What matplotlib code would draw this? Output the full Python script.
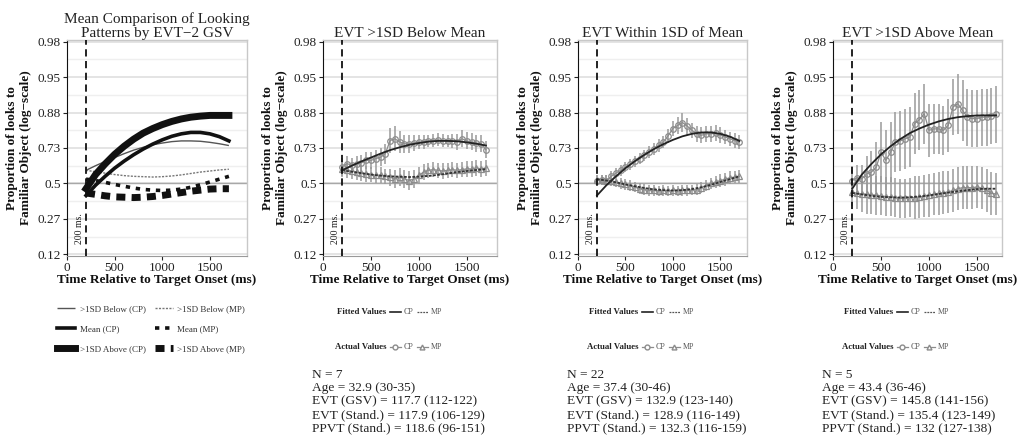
import numpy as np
import matplotlib
matplotlib.use('Agg')
import matplotlib.pyplot as plt
from matplotlib.lines import Line2D

plt.rcParams['font.family'] = ['Liberation Serif', 'DejaVu Serif']

# ---------------- data (log-odds scale) ----------------
time_bins = [200, 250, 300, 350, 400, 450, 500, 550, 600, 650, 700, 750, 800, 850, 900, 950,
             1000, 1050, 1100, 1150, 1200, 1250, 1300, 1350, 1400, 1450, 1500, 1550, 1600, 1650, 1700]
fit_times = [200, 300, 400, 500, 600, 700, 800, 900, 1000, 1100, 1200, 1300, 1400, 1500, 1600, 1700]

# fitted curves
below_cp_fit = [0.37, 0.50, 0.62, 0.73, 0.84, 0.94, 1.02, 1.09, 1.14, 1.18, 1.20, 1.20, 1.19, 1.16, 1.12, 1.07]
below_mp_fit = [0.37, 0.33, 0.29, 0.25, 0.22, 0.20, 0.19, 0.18, 0.19, 0.21, 0.24, 0.28, 0.32, 0.35, 0.38, 0.40]
mean_cp_fit = [-0.34, -0.05, 0.20, 0.43, 0.63, 0.81, 0.97, 1.11, 1.23, 1.33, 1.40, 1.44, 1.44, 1.40, 1.32, 1.20]
mean_mp_fit = [0.12, 0.08, 0.03, -0.03, -0.08, -0.13, -0.17, -0.19, -0.20, -0.19, -0.16, -0.11, -0.04, 0.04, 0.12, 0.20]
above_cp_fit = [-0.15, 0.25, 0.55, 0.82, 1.05, 1.25, 1.42, 1.55, 1.66, 1.75, 1.82, 1.87, 1.90, 1.92, 1.92, 1.92]
above_mp_fit = [-0.27, -0.31, -0.35, -0.38, -0.39, -0.40, -0.39, -0.37, -0.34, -0.30, -0.26, -0.22, -0.19, -0.16, -0.15, -0.15]

# actual values (means) and error half-widths
below_cp_obs = [0.46, 0.56, 0.51, 0.56, 0.58, 0.65, 0.65, 0.70, 0.74, 0.84, 1.21, 1.26, 1.17, 1.12, 1.12, 1.14,
                1.17, 1.17, 1.20, 1.21, 1.23, 1.21, 1.20, 1.20, 1.17, 1.26, 1.20, 1.17, 1.14, 1.12, 0.95]
below_cp_err = [0.25, 0.22, 0.22, 0.22, 0.22, 0.24, 0.24, 0.25, 0.26, 0.28, 0.35, 0.35, 0.30, 0.25, 0.25, 0.22,
                0.20, 0.20, 0.18, 0.18, 0.18, 0.18, 0.18, 0.20, 0.22, 0.24, 0.24, 0.24, 0.24, 0.24, 0.24]
below_mp_obs = [0.41, 0.37, 0.35, 0.32, 0.29, 0.27, 0.25, 0.23, 0.23, 0.20, 0.18, 0.13, 0.18, 0.13, 0.08, 0.13,
                0.23, 0.32, 0.37, 0.39, 0.37, 0.35, 0.37, 0.39, 0.37, 0.39, 0.41, 0.41, 0.44, 0.41, 0.44]
below_mp_err = [0.22, 0.22, 0.22, 0.22, 0.22, 0.22, 0.22, 0.22, 0.22, 0.22, 0.24, 0.26, 0.26, 0.26, 0.28, 0.26,
                0.24, 0.22, 0.22, 0.22, 0.22, 0.22, 0.22, 0.22, 0.22, 0.22, 0.22, 0.22, 0.22, 0.22, 0.22]

mean_cp_obs = [0.08, 0.10, 0.08, 0.20, 0.29, 0.37, 0.46, 0.54, 0.62, 0.70, 0.79, 0.89, 0.97, 1.08, 1.17, 1.35,
               1.55, 1.64, 1.72, 1.62, 1.50, 1.40, 1.36, 1.40, 1.40, 1.42, 1.36, 1.31, 1.26, 1.21, 1.17]
mean_cp_err = [0.15, 0.15, 0.15, 0.15, 0.15, 0.15, 0.15, 0.15, 0.15, 0.15, 0.16, 0.16, 0.17, 0.18, 0.18, 0.20,
               0.22, 0.24, 0.26, 0.24, 0.22, 0.22, 0.22, 0.22, 0.22, 0.22, 0.22, 0.20, 0.20, 0.20, 0.20]
mean_mp_obs = [0.10, 0.10, 0.08, 0.08, 0.04, 0.00, -0.03, -0.06, -0.10, -0.15, -0.18, -0.20, -0.20, -0.21, -0.20, -0.21,
               -0.20, -0.21, -0.20, -0.20, -0.19, -0.18, -0.12, -0.06, 0.00, 0.04, 0.08, 0.12, 0.16, 0.18, 0.20]
mean_mp_err = [0.15, 0.15, 0.15, 0.15, 0.15, 0.15, 0.15, 0.15, 0.15, 0.15, 0.15, 0.15, 0.15, 0.15, 0.15, 0.15,
               0.15, 0.15, 0.15, 0.15, 0.15, 0.15, 0.15, 0.15, 0.16, 0.17, 0.18, 0.18, 0.18, 0.18, 0.18]

above_cp_obs = [0.08, 0.16, 0.13, 0.27, 0.32, 0.46, 0.88, 0.65, 0.88, 1.17, 1.20, 1.26, 1.31, 1.69, 1.80, 1.97,
                1.50, 1.54, 1.54, 1.50, 1.64, 2.16, 2.25, 2.06, 1.87, 1.83, 1.83, 1.87, 1.87, 1.90, 1.95]
above_cp_err = [0.30, 0.35, 0.40, 0.50, 0.60, 0.70, 0.85, 0.85, 0.85, 0.85, 0.85, 0.85, 0.85, 0.85, 0.85, 0.85,
                0.75, 0.70, 0.70, 0.70, 0.75, 0.80, 0.85, 0.85, 0.80, 0.80, 0.80, 0.80, 0.80, 0.80, 0.80]
above_mp_obs = [-0.25, -0.28, -0.30, -0.30, -0.32, -0.33, -0.35, -0.37, -0.38, -0.40, -0.42, -0.42, -0.40, -0.40, -0.38, -0.36,
                -0.34, -0.30, -0.28, -0.26, -0.24, -0.20, -0.15, -0.12, -0.12, -0.12, -0.10, -0.13, -0.20, -0.28, -0.30]
above_mp_err = [0.40, 0.45, 0.50, 0.55, 0.55, 0.55, 0.55, 0.55, 0.55, 0.55, 0.55, 0.55, 0.55, 0.60, 0.60, 0.60,
                0.60, 0.60, 0.60, 0.60, 0.60, 0.60, 0.60, 0.60, 0.60, 0.60, 0.60, 0.60, 0.60, 0.60, 0.60]

ytick_pos = [-2, -1, 0, 1, 2, 3, 4]
ytick_labels = ['0.12', '0.27', '0.5', '0.73', '0.88', '0.95', '0.98']
xtick_pos = [0, 500, 1000, 1500]

panel_titles = ['Mean Comparison of Looking\nPatterns by EVT\u22122 GSV',
                'EVT >1SD Below Mean', 'EVT Within 1SD of Mean', 'EVT >1SD Above Mean']

stats_text = [
    ['N = 7', 'Age = 32.9 (30-35)', 'EVT (GSV) = 117.7 (112-122)',
     'EVT (Stand.) = 117.9 (106-129)', 'PPVT (Stand.) = 118.6 (96-151)'],
    ['N = 22', 'Age = 37.4 (30-46)', 'EVT (GSV) = 132.9 (123-140)',
     'EVT (Stand.) = 128.9 (116-149)', 'PPVT (Stand.) = 132.3 (116-159)'],
    ['N = 5', 'Age = 43.4 (36-46)', 'EVT (GSV) = 145.8 (141-156)',
     'EVT (Stand.) = 135.4 (123-149)', 'PPVT (Stand.) = 132 (127-138)'],
]

# ---------------- layout ----------------
W, H = 1020, 448
fig = plt.figure(figsize=(W / 100, H / 100), dpi=100)
fig.patch.set_facecolor('white')


def px_axes(l, t, r, b, **kw):
    return fig.add_axes([l / W, 1 - b / H, (r - l) / W, (b - t) / H], **kw)


panel_boxes = [(67, 40, 247, 256), (323, 40, 497, 256), (578, 40, 747, 256), (833, 40, 1002, 256)]
xmax_list = [1890, 1815, 1780, 1760]


def style_axes(ax, title, xmax):
    ax.set_xlim(0, xmax)
    ax.set_ylim(-2.05, 4.05)
    ax.set_yticks(ytick_pos)
    ax.set_yticklabels(ytick_labels)
    ax.set_yticks([-1.5, -0.5, 0.5, 1.5, 2.5, 3.5], minor=True)
    ax.set_xticks(xtick_pos)
    ax.grid(axis='y', which='major', color='#e4e4e4', lw=1.4)
    ax.grid(axis='y', which='minor', color='#efefef', lw=1.0)
    ax.set_axisbelow(True)
    for s in ['top', 'right']:
        ax.spines[s].set_color('#c8c8c8')
        ax.spines[s].set_linewidth(1.0)
    ax.spines['left'].set_color('#111111')
    ax.spines['bottom'].set_color('#999999')
    ax.tick_params(axis='both', which='major', direction='out', length=3, width=0.8,
                   labelsize=9.5, colors='#222222', pad=1.5)
    ax.tick_params(axis='y', which='minor', length=0)
    ax.axhline(0, color='#a8a8a8', lw=1.0, zorder=1)
    ax.axvline(200, color='#111111', ls=(0, (4, 2.5)), lw=1.3, zorder=4)
    ax.text(130, -1.27, '200 ms.', rotation=90, fontsize=7, ha='center', va='center', color='#222222')
    ax.set_xlabel('Time Relative to Target Onset (ms)', fontweight='bold', fontsize=9.5,
                  labelpad=0, color='#111111')
    ax.set_ylabel('Proportion of looks to\nFamiliar Object (log\u2212scale)', fontweight='bold',
                  fontsize=9.5, labelpad=4, color='#111111', linespacing=1.15)
    ax.set_title(title, fontsize=11, pad=2, color='#222222', linespacing=1.05)


axes = [px_axes(*b) for b in panel_boxes]
for ax, t, xm in zip(axes, panel_titles, xmax_list):
    style_axes(ax, t, xm)

# ----- panel 1: comparison of fitted curves -----
ax1 = axes[0]
h_bcp, = ax1.plot(fit_times, below_cp_fit, color='#555555', lw=1.0, solid_capstyle='butt')
h_bmp, = ax1.plot(fit_times, below_mp_fit, color='#777777', lw=1.0, ls=(0, (1.5, 1)))
h_mcp, = ax1.plot(fit_times, mean_cp_fit, color='#111111', lw=2.6)
h_mmp, = ax1.plot(fit_times, mean_mp_fit, color='#111111', lw=2.6, ls=(0, (1.2, 1.6)))
h_acp, = ax1.plot(fit_times, above_cp_fit, color='#111111', lw=5.0)
h_amp, = ax1.plot(fit_times, above_mp_fit, color='#111111', lw=5.0, ls=(0, (1.3, 0.9)))

leg1 = ax1.legend([h_bcp, h_mcp, h_acp, h_bmp, h_mmp, h_amp],
                  ['>1SD Below (CP)', 'Mean (CP)', '>1SD Above (CP)',
                   '>1SD Below (MP)', 'Mean (MP)', '>1SD Above (MP)'],
                  ncol=2, frameon=False, fontsize=6.5, handlelength=2.0, handletextpad=0.5,
                  columnspacing=1.0, labelspacing=1.25,
                  loc='upper left', bbox_to_anchor=(-0.1, -0.19))
for t in leg1.get_texts():
    t.set_color('#333333')

# ----- panels 2-4 -----
groups = [
    (below_cp_fit, below_mp_fit, below_cp_obs, below_cp_err, below_mp_obs, below_mp_err),
    (mean_cp_fit, mean_mp_fit, mean_cp_obs, mean_cp_err, mean_mp_obs, mean_mp_err),
    (above_cp_fit, above_mp_fit, above_cp_obs, above_cp_err, above_mp_obs, above_mp_err),
]
obs_col = '#8c8c8c'
for ax, (cpf, mpf, cpo, cpe, mpo, mpe) in zip(axes[1:], groups):
    ax.errorbar(time_bins, cpo, yerr=cpe, color=obs_col, ecolor='#9a9a9a', elinewidth=1.1, capsize=0,
                marker='o', ms=4, mfc='none', mec=obs_col, mew=0.9, lw=0.9, zorder=2)
    ax.errorbar(time_bins, mpo, yerr=mpe, color=obs_col, ecolor='#9a9a9a', elinewidth=1.1, capsize=0,
                marker='^', ms=4, mfc='none', mec=obs_col, mew=0.9, lw=0.9, zorder=2)
    ax.plot(fit_times, cpf, color='#222222', lw=1.3, zorder=3)
    ax.plot(fit_times, mpf, color='#333333', lw=1.3, ls=(0, (1.5, 0.8)), zorder=3)

# ----- legends and stats under panels 2-4 (figure pixel overlay) -----
ov = fig.add_axes([0, 0, 1, 1])
ov.set_xlim(0, W)
ov.set_ylim(H, 0)
ov.axis('off')
ov.patch.set_alpha(0)

legend_x = [386, 638, 893]   # right edge of the "Fitted Values" label
stats_x = [312, 567, 822]
for lx, sx, lines in zip(legend_x, stats_x, stats_text):
    # fitted values row
    ov.text(lx, 312, 'Fitted Values', fontsize=6.3, fontweight='bold', va='center', ha='right', color='#222222')
    ov.add_line(Line2D([lx + 4, lx + 15], [312, 312], color='#222222', lw=1.2))
    ov.text(lx + 18, 312, 'CP', fontsize=5.8, va='center', ha='left', color='#555555')
    ov.add_line(Line2D([lx + 31, lx + 42], [312, 312], color='#555555', lw=0.9, ls=(0, (1.5, 0.8))))
    ov.text(lx + 45, 312, 'MP', fontsize=5.8, va='center', ha='left', color='#555555')
    # actual values row
    ov.text(lx + 1, 347, 'Actual Values', fontsize=6.3, fontweight='bold', va='center', ha='right', color='#222222')
    ov.add_line(Line2D([lx + 4, lx + 15], [347, 347], color=obs_col, lw=0.9))
    ov.add_line(Line2D([lx + 9.5], [347], color=obs_col, lw=0, marker='o', ms=3.5, mfc='white', mec=obs_col))
    ov.text(lx + 18, 347, 'CP', fontsize=5.8, va='center', ha='left', color='#555555')
    ov.add_line(Line2D([lx + 31, lx + 42], [347, 347], color=obs_col, lw=0.9))
    ov.add_line(Line2D([lx + 36.5], [347], color=obs_col, lw=0, marker='^', ms=3.5, mfc='white', mec=obs_col))
    ov.text(lx + 45, 347, 'MP', fontsize=5.8, va='center', ha='left', color='#555555')
    # stats block
    ov.text(sx, 369, '\n'.join(lines), fontsize=9.6, va='top', ha='left', color='#222222', linespacing=1.15)

fig.savefig('out.png', dpi=100, facecolor='white')
